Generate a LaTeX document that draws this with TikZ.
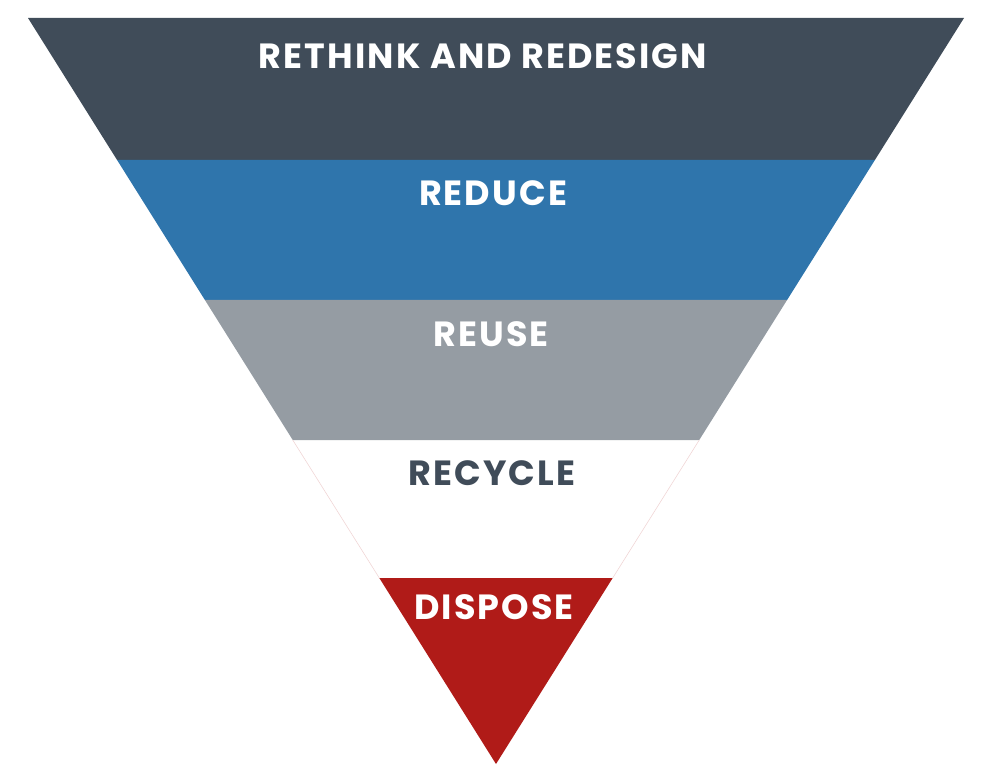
\documentclass[tikz,border=0pt]{standalone}
\usepackage{fontspec}
\setmainfont{Poppins}[LetterSpace=6]
\usepackage{tikz}
\usetikzlibrary{calc}

\definecolor{slate}{HTML}{404C59}
\definecolor{steelblue}{HTML}{2F75AC}
\definecolor{ashgray}{HTML}{959CA3}
\definecolor{brick}{HTML}{B01B18}
\definecolor{rimline}{HTML}{F0D6D6}

\begin{document}
\begin{tikzpicture}[x=1pt, y=-1pt,
band/.style={draw=none},
label/.style={font=\fontsize{35}{35}\selectfont\bfseries, inner sep=0pt, anchor=base, text=white},
  ]
  \useasboundingbox (0,0) rectangle (997,768);
  \coordinate (tl) at (28,18);
  \coordinate (tr) at (964,18);
  \coordinate (apex) at (496,764);
  % band edges along the sides
  \coordinate (l1) at ($(tl)!0.1903!(apex)$);
  \coordinate (r1) at ($(tr)!0.1903!(apex)$);
  \coordinate (l2) at ($(tl)!0.3780!(apex)$);
  \coordinate (r2) at ($(tr)!0.3780!(apex)$);
  \coordinate (l3) at ($(tl)!0.5657!(apex)$);
  \coordinate (r3) at ($(tr)!0.5657!(apex)$);
  \coordinate (l4) at ($(tl)!0.7507!(apex)$);
  \coordinate (r4) at ($(tr)!0.7507!(apex)$);
  \fill[band, slate] (tl) -- (tr) -- (r1) -- (l1) -- cycle;
  \fill[band, steelblue] (l1) -- (r1) -- (r2) -- (l2) -- cycle;
  \fill[band, ashgray] (l2) -- (r2) -- (r3) -- (l3) -- cycle;
  \draw[rimline, line width=0.6pt] (l3) -- (l4) (r3) -- (r4);
  \fill[band, brick] (l4) -- (r4) -- (apex) -- cycle;
  \node[label] (rethink) at (483,69) {RETHINK AND REDESIGN};
  \node[label] (reduce) at (493,205) {REDUCE};
  \node[label] (reuse) at (491,346) {REUSE};
  \node[label, text=slate] (recycle) at (492,485) {RECYCLE};
  \node[label] (dispose) at (494,619) {DISPOSE};
\end{tikzpicture}
\end{document}
